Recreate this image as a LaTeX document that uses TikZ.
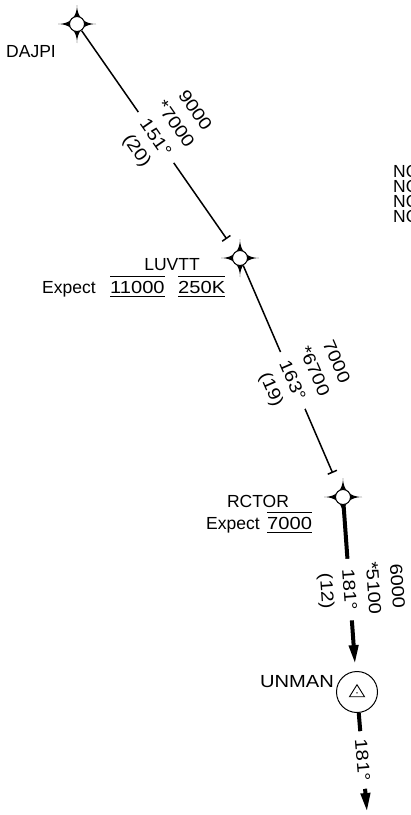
\documentclass[tikz,border=0pt]{standalone}
\usepackage{fontspec}
\setmainfont{Liberation Sans}
\newfontfamily\numfont[FakeStretch=1.15]{Liberation Sans}
\usetikzlibrary{arrows.meta,calc}
\tikzset{
  flyby/.pic={
    \fill[black] (0,19) .. controls (0,7) and (7,0) .. (19,0)
      .. controls (7,0) and (0,-7) .. (0,-19)
      .. controls (0,-7) and (-7,0) .. (-19,0)
      .. controls (-7,0) and (0,7) .. cycle;
    \draw[fill=white, line width=1pt] (0,0) circle (7.5);
  },
  wpt/.style={circle, minimum size=16pt, inner sep=0pt},
  lbl/.style={font=\fontsize{17.5}{21}\selectfont, inner sep=0pt},
  num/.style={font=\numfont\fontsize{17.5}{21}\selectfont, inner sep=0pt},
  notetext/.style={font=\fontsize{17.5}{15}\selectfont, inner sep=0pt, anchor=base west},
  legthin/.style={line width=1.5pt},
  legthick/.style={line width=4pt},
  onleg/.style={num, sloped, fill=white, inner xsep=10pt, inner ysep=2pt},
  offleg/.style={num, sloped},
  mand/.style={num, anchor=base west, inner xsep=0pt, inner ysep=3.5pt, text height=12.5pt, text depth=0pt},
  ovl/.style={line width=1.2pt},
  bartip/.style={-{Bar[width=10pt]}},
  arrtip/.style={-{Triangle[length=19pt,width=9pt]}},
}
\begin{document}
\begin{tikzpicture}[x=1pt,y=-1pt]
\useasboundingbox (0,0) rectangle (411,815);
\clip (0,0) rectangle (411,815);

% waypoints
\node[wpt] (dajpi) at (77,24) {};
\node[wpt] (luvtt) at (240,258) {};
\node[wpt] (rctor) at (343,497) {};
\node[circle, minimum size=41pt, inner sep=0pt, draw, line width=1pt] (unman) at (357,692) {};
\coordinate (tail) at (367,812);
\pic at (dajpi) {flyby};
\pic at (luvtt) {flyby};
\pic at (rctor) {flyby};
\draw[line width=0.9pt] ($(unman)+(-7.5,4.7)$) -- ++(15,0) -- ($(unman)+(0,-7.3)$) -- cycle;
\fill ($(unman)+(0,0.8)$) circle (0.8);

% legs
\draw[legthin, bartip, shorten >=15pt] (dajpi) -- (luvtt)
  node[onleg, pos=0.484] (c1) {151°}
  node[offleg, pos=0.484, yshift=48pt] (a1) {9000}
  node[offleg, pos=0.484, yshift=24pt] (b1) {*7000}
  node[offleg, pos=0.484, yshift=-24pt] (d1) {(20)};
\draw[legthin, bartip, shorten >=18pt] (luvtt) -- (rctor)
  node[onleg, pos=0.513] (c2) {163°}
  node[offleg, pos=0.513, yshift=48pt] (a2) {7000}
  node[offleg, pos=0.513, yshift=24pt] (b2) {*6700}
  node[offleg, pos=0.513, yshift=-24pt] (d2) {(19)};
\draw[legthick, arrtip, shorten >=7pt] (rctor) -- (unman)
  node[onleg, pos=0.509] (c3) {181°}
  node[offleg, pos=0.509, yshift=48pt] (a3) {6000}
  node[offleg, pos=0.509, yshift=24pt] (b3) {*5100}
  node[offleg, pos=0.509, yshift=-24pt] (d3) {(12)};
\draw[legthick, arrtip] (unman) -- (tail)
  node[onleg, pos=0.475, inner xsep=8pt] (c4) {181°};

% labels
\node[lbl, anchor=base] (dajpil) at (31,57) {DAJPI};
\node[lbl, anchor=base] (luvttl) at (172,270.5) {LUVTT};
\node[lbl, anchor=base west] (luvtte) at (42,293) {Expect};
\node[mand] (luvtta) at (110,293) {11000};
\node[mand] (luvtts) at (178,293) {250K};
\draw[ovl] (luvtta.north west) -- (luvtta.north east)
           (luvtta.south west) -- (luvtta.south east)
           (luvtts.north west) -- (luvtts.north east)
           (luvtts.south west) -- (luvtts.south east);
\node[lbl, anchor=base] (rctorl) at (258,507) {RCTOR};
\node[lbl, anchor=base west] (rctore) at (206,529) {Expect};
\node[mand] (rctora) at (267,529) {7000};
\draw[ovl] (rctora.north west) -- (rctora.north east)
           (rctora.south west) -- (rctora.south east);
\node[num, anchor=base] (unmanl) at (297,687) {UNMAN};

% notes (clipped at right edge)
\node[notetext] (note1) at (393,177) {NO};
\node[notetext] (note2) at (393,192) {NO};
\node[notetext] (note3) at (393,207) {NO};
\node[notetext] (note4) at (393,222) {NO};
\end{tikzpicture}
\end{document}
